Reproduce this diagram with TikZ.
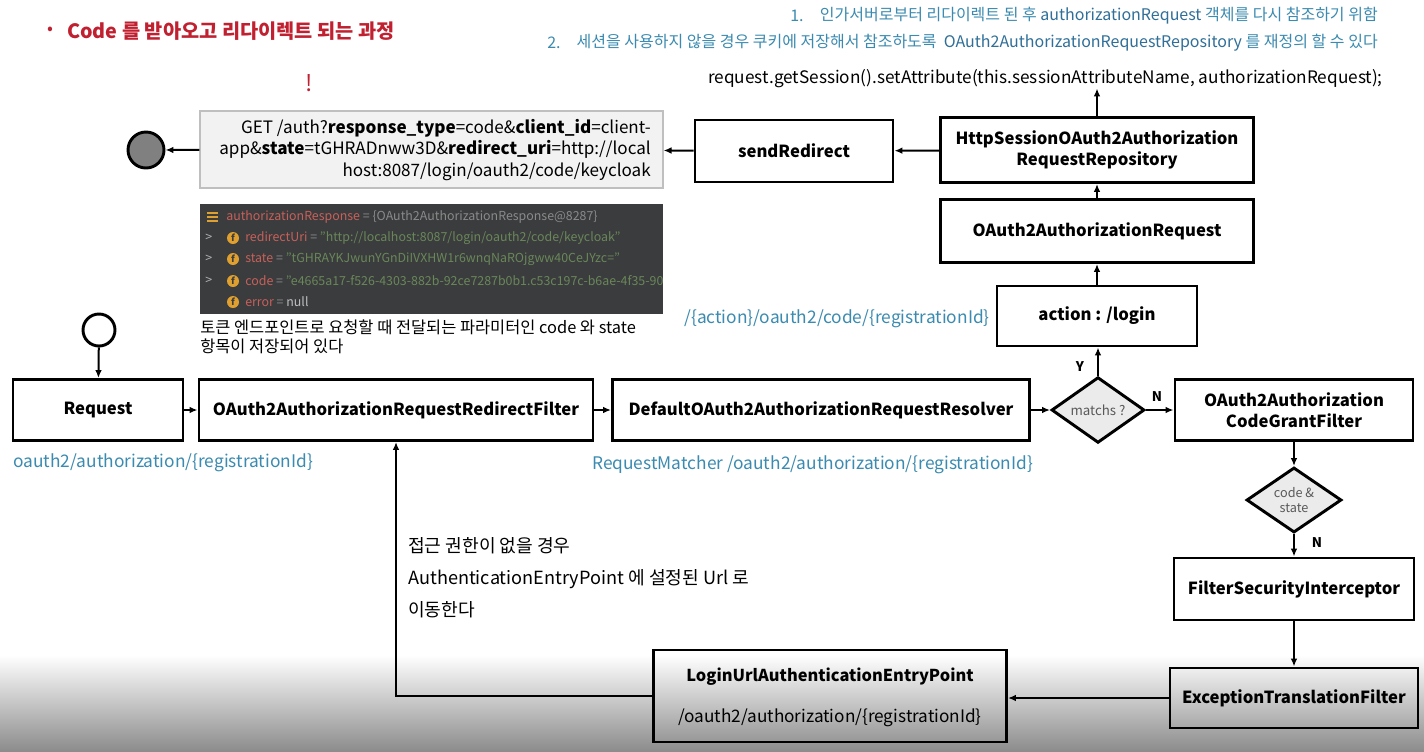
\documentclass[tikz,border=0pt]{standalone}
\usepackage{fontspec}
\setmainfont{Noto Sans CJK KR}
\usetikzlibrary{shapes.geometric,arrows.meta}
\definecolor{teal1}{HTML}{3B8BB0}
\definecolor{teal2}{HTML}{2F6F98}
\definecolor{titlered}{HTML}{C0202F}
\definecolor{panel}{HTML}{3A3C3E}
\definecolor{dbgred}{HTML}{C8605A}
\definecolor{dbggreen}{HTML}{6A8759}
\definecolor{dbggray}{HTML}{8A8A8A}
\definecolor{dbgorange}{HTML}{E0A030}
\definecolor{bottomgray}{HTML}{8C8C8C}
\begin{document}
\begin{tikzpicture}[x=0.75pt,y=-0.75pt,
  box/.style={draw, line width=2.2pt, font=\bfseries\fontsize{12.5}{15.5}\selectfont, align=center, inner sep=0pt},
  arr/.style={line width=1.5pt, -{Latex[length=6pt,width=5pt]}},
  bluelbl/.style={text=teal1, font=\fontsize{13}{15}\selectfont, inner sep=0pt},
  note/.style={text=teal1, font=\fontsize{12}{14}\selectfont, inner sep=0pt},
  yn/.style={font=\bfseries\fontsize{10}{12}\selectfont, inner sep=0pt},
  dbg/.style={font=\fontsize{9.3}{11}\selectfont, inner sep=0pt, anchor=west},
  ficon/.style={circle, fill=dbgorange, minimum size=9pt, inner sep=0pt, font=\bfseries\fontsize{7}{7}\selectfont, text=panel},
  dia/.style={draw, diamond, line width=2.2pt, fill=black!8, inner sep=0pt, text=black!65},
  ]
\useasboundingbox (0,0) rectangle (1424,751);
\fill[white] (0,0) rectangle (1424,751);
\shade[top color=white, bottom color=bottomgray] (0,655) rectangle (1424,751);

% title
\node[text=titlered, font=\fontsize{13}{15}\selectfont, inner sep=0pt] (bullet) at (50,31) {•};
\node[text=titlered, font=\bfseries\fontsize{14.8}{17}\selectfont, anchor=west, inner sep=0pt] (title) at (67,31) {Code 를 받아오고 리다이렉트 되는 과정};
\node[text=titlered, font=\itshape\fontsize{17}{19}\selectfont, inner sep=0pt] (excl) at (309,83) {!};

% top notes
\node[note, anchor=west] (n1num) at (790,16) {1.};
\node[note, anchor=east] (n1) at (1378,16) {인가서버로부터 리다이렉트 된 후 \textcolor{teal2}{authorizationRequest} 객체를 다시 참조하기 위함};
\node[note, anchor=west] (n2num) at (547,43) {2.};
\node[note, anchor=east] (n2) at (1378,43) {세션을 사용하지 않을 경우 쿠키에 저장해서 참조하도록 \ \textcolor{teal2}{OAuth2AuthorizationRequestRepository} 를 재정의 할 수 있다};
\node[font=\fontsize{12.9}{15}\selectfont, inner sep=0pt, anchor=east] (reqcode) at (1383,79) {request.getSession().setAttribute(this.sessionAttributeName, authorizationRequest);};

% boxes
\node[box, minimum width=148.5pt, minimum height=46.5pt] (send) at (794,151) {sendRedirect};
\node[box, minimum width=234.75pt, minimum height=48.75pt] (http) at (1097,150) {HttpSessionOAuth2Authorization\\RequestRepository};
\node[box, minimum width=234.75pt, minimum height=47.25pt] (oar) at (1097,231) {OAuth2AuthorizationRequest};
\node[box, minimum width=150pt, minimum height=45pt] (action) at (1097,316) {action : /login};
\node[box, minimum width=127.5pt, minimum height=45.75pt] (request) at (98,410) {Request};
\node[box, minimum width=295.5pt, minimum height=45.75pt] (redirect) at (396,410) {OAuth2AuthorizationRequestRedirectFilter};
\node[box, minimum width=312.75pt, minimum height=45.75pt] (resolver) at (821,410) {DefaultOAuth2AuthorizationRequestResolver};
\node[box, minimum width=178.5pt, minimum height=45.75pt] (codegrant) at (1294,410) {OAuth2Authorization\\CodeGrantFilter};
\node[box, minimum width=180pt, minimum height=46.5pt] (fsi) at (1294,589) {FilterSecurityInterceptor};
\node[box, minimum width=186pt, minimum height=45pt] (etf) at (1294,698) {ExceptionTranslationFilter};
\node[box, minimum width=264.75pt, minimum height=69pt] (login) at (830,696) {};
\node[font=\bfseries\fontsize{12.3}{14}\selectfont, inner sep=0pt] (logint) at (830,677) {LoginUrlAuthenticationEntryPoint};
\node[font=\fontsize{12.9}{14}\selectfont, inner sep=0pt] (loginp) at (830,718) {/oauth2/authorization/\{registrationId\}};

% diamonds
\node[dia, minimum width=69.75pt, minimum height=45pt, font=\fontsize{10}{12}\selectfont] (match) at (1098,410) {matchs ?};
\node[dia, minimum width=71.25pt, minimum height=45pt, font=\fontsize{9.5}{11}\selectfont, align=center] (codestate) at (1294,500) {code \&\\state};

% circles
\node[circle, draw, line width=2.2pt, minimum size=24pt, inner sep=0pt] (start) at (99,330) {};
\node[circle, draw, line width=2.2pt, fill=black!50, minimum size=27pt, inner sep=0pt] (end) at (146,150) {};

% GET box
\node[draw=black!25, fill=black!5, line width=0.8pt, minimum width=347.25pt, minimum height=57.75pt, inner sep=0pt] (get) at (431.5,149.5) {};
\node[font=\fontsize{12.8}{16}\selectfont, align=right, anchor=east, inner sep=0pt] (gett) at (651,150) {GET /auth?\textbf{response\_type}=code\&\textbf{client\_id}=client-\\app\&\textbf{state}=tGHRADnww3D\&\textbf{redirect\_uri}=http://local\\host:8087/login/oauth2/code/keycloak};

% debugger panel
\fill[panel] (200,204) rectangle (663,314);
\begin{scope}
\clip (200,204) rectangle (663,314);
\foreach \dy in {-4,0,4} \draw[dbgorange, line width=1.8pt] (207,217+\dy) -- (218,217+\dy);
\node[dbg] (d1) at (226,217) {\textcolor{dbgred}{authorizationResponse} \textcolor{dbggray}{= \{OAuth2AuthorizationResponse@8287\}}};
\foreach \yy in {238,259,281} \node[dbg, text=black!30] at (205,\yy) {>};
\foreach \yy in {238,259,281,302} \node[ficon] at (233,\yy) {f};
\node[dbg] (d2) at (245,238) {\textcolor{dbgred}{redirectUri} \textcolor{dbggray}{=} \textcolor{dbggreen}{"http://localhost:8087/login/oauth2/code/keycloak"}};
\node[dbg] (d3) at (245,259) {\textcolor{dbgred}{state} \textcolor{dbggray}{=} \textcolor{dbggreen}{"tGHRAYKJwunYGnDiIVXHW1r6wnqNaROjgww40CeJYzc="}};
\node[dbg] (d4) at (245,281) {\textcolor{dbgred}{code} \textcolor{dbggray}{=} \textcolor{dbggreen}{"e4665a17-f526-4303-882b-92ce7287b0b1.c53c197c-b6ae-4f35-90a1}};
\node[dbg] (d5) at (245,302) {\textcolor{dbgred}{error} \textcolor{dbggray}{=} \textcolor{black!25}{null}};
\end{scope}
\node[font=\fontsize{12.3}{14.25}\selectfont, align=left, anchor=north west, inner sep=0pt] (knote) at (200,320) {토큰 엔드포인트로 요청할 때 전달되는 파라미터인 code 와 state\\항목이 저장되어 있다};

% blue labels
\node[bluelbl, anchor=west] (l1) at (13,463) {oauth2/authorization/\{registrationId\}};
\node[bluelbl, anchor=west] (l2) at (592,465) {RequestMatcher /oauth2/authorization/\{registrationId\}};
\node[bluelbl, anchor=east] (l3) at (990,319) {/\{action\}/oauth2/code/\{registrationId\}};

% korean explanation
\node[font=\fontsize{13.6}{24}\selectfont, align=left, anchor=north west, inner sep=0pt] (expl) at (408,537) {접근 권한이 없을 경우\\AuthenticationEntryPoint 에 설정된 Url 로\\이동한다};

% Y/N labels
\node[yn] (ylbl) at (1080,367) {Y};
\node[yn] (nlbl) at (1157,397) {N};
\node[yn] (nlbl2) at (1317,543) {N};

% connectors
\draw[arr] (start) -- (request);
\draw[arr] (request) -- (redirect);
\draw[arr] (redirect) -- (resolver);
\draw[arr] (resolver) -- (match);
\draw[arr] (match) -- (codegrant);
\draw[arr] (match.north) -- (match.north |- action.south);
\draw[arr] (action) -- (oar);
\draw[arr] (oar) -- (http);
\draw[arr] (http.north) -- (http.north |- reqcode.south);
\draw[arr] (http) -- (send);
\draw[arr] (send) -- (get);
\draw[arr] (get) -- (end);
\draw[arr] (codegrant) -- (codestate);
\draw[arr] (codestate) -- (fsi);
\draw[arr] (fsi) -- (etf);
\draw[arr] (etf.west) -- (etf.west -| login.east);
\draw[arr] (login.west) -| (redirect.south);
\end{tikzpicture}
\end{document}
